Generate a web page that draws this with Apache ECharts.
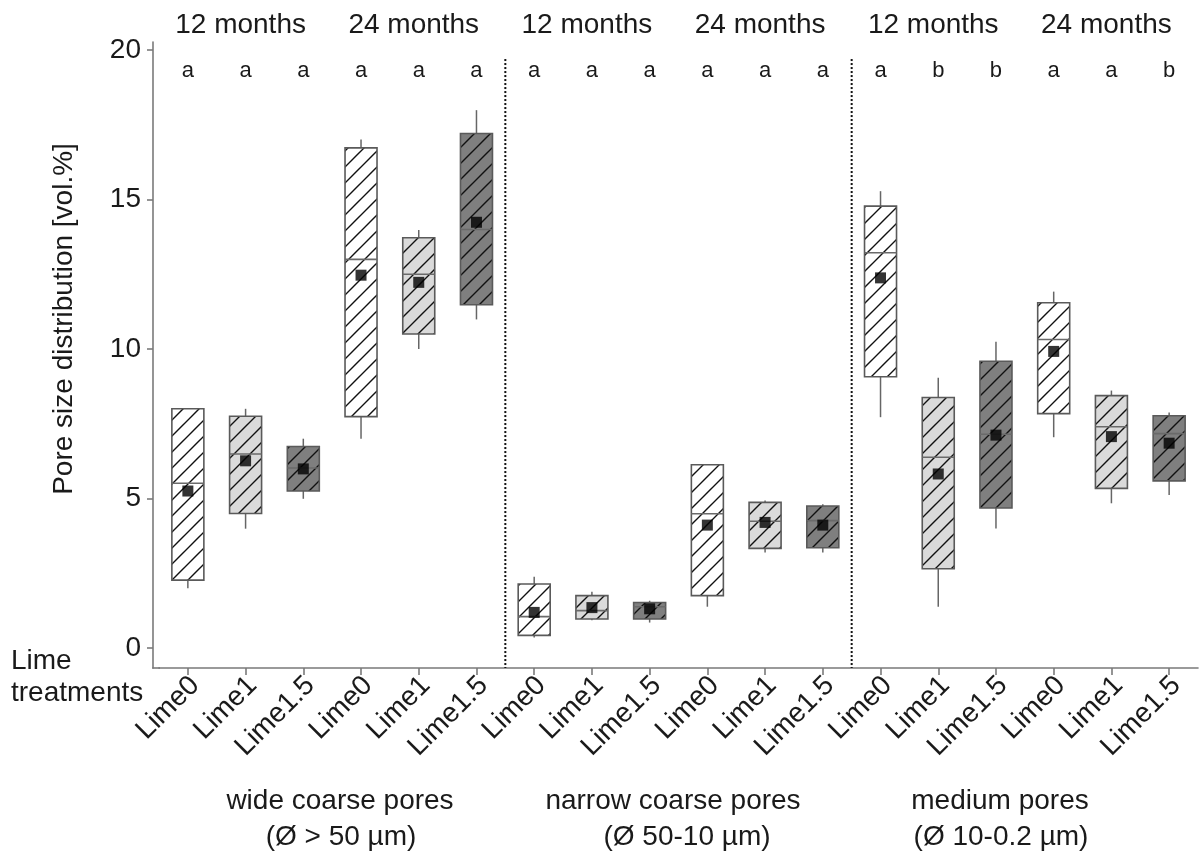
<!DOCTYPE html>
<html>
<head>
<meta charset="utf-8">
<script src="https://cdn.jsdelivr.net/npm/echarts@6/dist/echarts.min.js"></script>
<style>
html,body{margin:0;padding:0;background:#fff;}
#main{width:1203px;height:859px;}
</style>
</head>
<body>
<div id="main"></div>
<script>
// ---------- data ----------
const categories = ['Lime0','Lime1','Lime1.5','Lime0','Lime1','Lime1.5',
                    'Lime0','Lime1','Lime1.5','Lime0','Lime1','Lime1.5',
                    'Lime0','Lime1','Lime1.5','Lime0','Lime1','Lime1.5'];
const whiskerLow  = [2.0, 3.99, 4.99, 7.0, 10.0, 10.99, 0.35, 0.93, 0.85, 1.38, 3.19, 3.19, 7.72, 1.38, 4.0, 7.05, 4.84, 5.12];
const quart1      = [2.27, 4.5, 5.25, 7.74, 10.5, 11.48, 0.42, 0.97, 0.97, 1.75, 3.33, 3.35, 9.07, 2.65, 4.68, 7.84, 5.34, 5.59];
const medians     = [5.51, 6.49, 6.02, 13.0, 12.5, 14.0, 1.05, 1.25, 1.38, 4.49, 4.24, 4.26, 13.22, 6.38, 7.15, 10.32, 7.4, 7.17];
const quart3      = [8.0, 7.75, 6.74, 16.73, 13.72, 17.21, 2.14, 1.75, 1.52, 6.13, 4.87, 4.75, 14.78, 8.38, 9.59, 11.55, 8.44, 7.77];
const whiskerHigh = [8.0, 8.0, 7.0, 17.01, 13.98, 17.99, 2.38, 1.88, 1.58, 6.13, 4.93, 4.81, 15.28, 9.04, 10.24, 11.92, 8.61, 7.88];
const means       = [5.25, 6.26, 5.99, 12.47, 12.23, 14.24, 1.19, 1.35, 1.31, 4.11, 4.2, 4.11, 12.38, 5.82, 7.12, 9.92, 7.07, 6.85];
const letters     = ['a','a','a','a','a','a','a','a','a','a','a','a','a','b','b','a','a','b'];
const monthLabels = ['12 months','24 months','12 months','24 months','12 months','24 months'];
const monthIndex  = [1, 4, 7, 10, 13, 16];
const separatorsAfter = [5, 11];
const groupLine1  = ['wide coarse pores','narrow coarse pores','medium pores'];
const groupLine2  = ['(Ø > 50 µm)','(Ø 50-10 µm)','(Ø 10-0.2 µm)'];
const yTickValues = [0, 5, 10, 15, 20];

// ---------- styles ----------
const FONT = '"Liberation Sans", Arial, sans-serif';
const TXT = '#1a1a1a';
const AXIS = '#7a7a7a';
const fillByTreatment = {'Lime0':'#ffffff','Lime1':'#dadada','Lime1.5':'#7f7f7f'};

function hatch(bg){
  const s = 16;
  const c = document.createElement('canvas');
  c.width = s; c.height = s;
  const g = c.getContext('2d');
  g.fillStyle = bg; g.fillRect(0,0,s,s);
  g.strokeStyle = '#111'; g.lineWidth = 1.4;
  g.beginPath();
  g.moveTo(0,s); g.lineTo(s,0);
  g.moveTo(-2,2); g.lineTo(2,-2);
  g.moveTo(s-2,s+2); g.lineTo(s+2,s-2);
  g.stroke();
  return c;
}
const patterns = {};
Object.keys(fillByTreatment).forEach(k => patterns[k] = hatch(fillByTreatment[k]));

const boxData = categories.map((c,i) => [i, whiskerLow[i], quart1[i], medians[i], quart3[i], whiskerHigh[i]]);
const meanData = categories.map((c,i) => [i, means[i]]);
const letterY = 19.3;
const letterData = categories.map((c,i) => [i, letterY]);

const chart = echarts.init(document.getElementById('main'), null, {renderer:'canvas'});

const option = {
  animation: false,
  backgroundColor: '#fff',
  grid: {left: 159, right: 5, top: 42, bottom: 191},
  xAxis: {
    type: 'category',
    data: categories,
    boundaryGap: true,
    axisLine: {show: true, onZero: false, lineStyle: {color: AXIS, width: 1.6}},
    axisTick: {show: true, alignWithLabel: true, interval: 0, inside: false, length: 7, lineStyle: {color: AXIS, width: 1.6}},
    axisLabel: {rotate: 45, fontSize: 28, fontFamily: FONT, color: TXT, margin: 20, padding: [0,-10,0,0], interval: 0},
    splitLine: {show: false}
  },
  yAxis: {
    type: 'value',
    min: -0.67, max: 20.27,
    offset: 6,
    axisLine: {show: true, lineStyle: {color: AXIS, width: 1.6}},
    axisTick: {show: true, length: 6, lineStyle: {color: AXIS, width: 1.6}, customValues: yTickValues},
    axisLabel: {fontSize: 28, fontFamily: FONT, color: TXT, margin: 12, customValues: yTickValues},
    splitLine: {show: false}
  },
  series: [
    {
      type: 'custom',
      name: 'boxes',
      data: boxData,
      encode: {x: 0, y: [1,2,3,4,5]},
      renderItem: function(params, api){
        const i = api.value(0);
        const cx = api.coord([i, 0])[0];
        const half = 16;
        const yMin = api.coord([i, api.value(1)])[1];
        const yQ1 = api.coord([i, api.value(2)])[1];
        const yMed = api.coord([i, api.value(3)])[1];
        const yQ3 = api.coord([i, api.value(4)])[1];
        const yMax = api.coord([i, api.value(5)])[1];
        const pat = patterns[categories[i]];
        const lineStyle = {stroke: '#666', lineWidth: 1.5};
        return {
          type: 'group',
          children: [
            {type:'line', shape:{x1:cx,y1:yMax,x2:cx,y2:yQ3}, style: lineStyle},
            {type:'line', shape:{x1:cx,y1:yQ1,x2:cx,y2:yMin}, style: lineStyle},
            {type:'rect', shape:{x:cx-half, y:yQ3, width:2*half, height:yQ1-yQ3},
             style:{fill:{image: pat, repeat:'repeat'}, stroke:'#5a5a5a', lineWidth:1.6}},
            {type:'line', shape:{x1:cx-half,y1:yMed,x2:cx+half,y2:yMed}, style:{stroke:'#6a6a6a', lineWidth:1.6}}
          ]
        };
      },
      z: 2
    },
    {
      type: 'scatter',
      name: 'mean',
      data: meanData,
      symbol: 'rect',
      symbolSize: 11,
      itemStyle: {color: '#000'},
      z: 4
    },
    {
      type: 'custom',
      name: 'letters',
      data: letterData,
      encode: {x:0, y:1},
      renderItem: function(params, api){
        const i = api.value(0);
        const p = api.coord([i, api.value(1)]);
        return {type:'text', x:p[0], y:p[1],
          style:{text: letters[i], fill: TXT, font: '22px ' + FONT, align:'center', verticalAlign:'middle'}};
      },
      z: 3
    },
    {
      type: 'custom',
      name: 'separators',
      data: separatorsAfter.map(i => [i, 19.7]),
      encode: {x:0, y:1},
      renderItem: function(params, api){
        const i = api.value(0);
        const band = api.size([1, 0])[0];
        const x = api.coord([i, 0])[0] + band/2;
        const yTop = api.coord([i, api.value(1)])[1];
        const yBot = api.coord([i, -0.67])[1];
        return {type:'line', shape:{x1:x,y1:yTop,x2:x,y2:yBot},
          style:{stroke:'#111', lineWidth:2, lineDash:[2,2]}};
      },
      z: 1
    }
  ]
};
chart.setOption(option);

// annotations positioned from the category axis
const px = i => chart.convertToPixel({xAxisIndex: 0}, i);
const graphic = [];
// join the x axis line to the offset y axis line
const axisY = chart.convertToPixel({yAxisIndex: 0}, -0.67);
const firstX = px(0), bandW = px(1) - px(0);
graphic.push({type:'line', shape:{x1: firstX - bandW/2 - 6.8, y1: axisY, x2: firstX - bandW/2 + 1, y2: axisY},
  style:{stroke: AXIS, lineWidth: 1.6}});
monthLabels.forEach((t, k) => {
  graphic.push({type:'text', x: px(monthIndex[k]) - 5, y: 25,
    style:{text:t, font:'28px ' + FONT, fill: TXT, align:'center', verticalAlign:'middle'}});
});
const groupCenters1 = [340, 673, 1000];
const groupCenters2 = [341, 687, 1001];
groupLine1.forEach((t,k) => {
  graphic.push({type:'text', x: groupCenters1[k], y: 801,
    style:{text:t, font:'28px ' + FONT, fill: TXT, align:'center', verticalAlign:'middle'}});
  graphic.push({type:'text', x: groupCenters2[k], y: 837,
    style:{text:groupLine2[k], font:'28px ' + FONT, fill: TXT, align:'center', verticalAlign:'middle'}});
});
graphic.push({type:'text', x: 11, y: 661,
  style:{text:'Lime', font:'28px ' + FONT, fill: TXT, align:'left', verticalAlign:'middle'}});
graphic.push({type:'text', x: 11, y: 693,
  style:{text:'treatments', font:'28px ' + FONT, fill: TXT, align:'left', verticalAlign:'middle'}});
graphic.push({type:'text', x: 64, y: 319, rotation: Math.PI/2,
  style:{text:'Pore size distribution [vol.%]', font:'28px ' + FONT, fill: TXT, align:'center', verticalAlign:'middle'}});
chart.setOption({graphic: graphic});
</script>
</body>
</html>
